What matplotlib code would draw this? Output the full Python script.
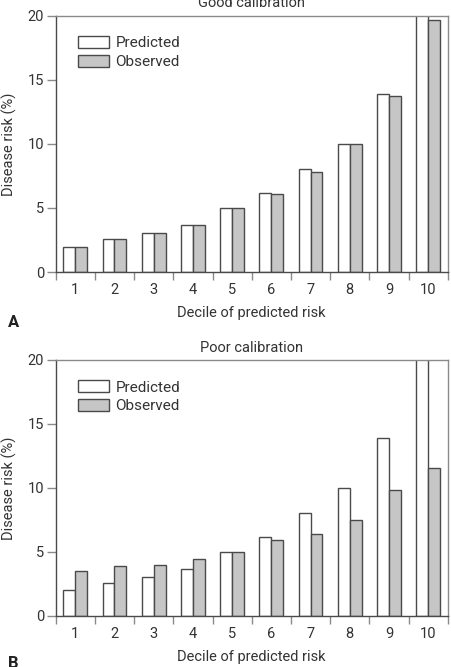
#!/usr/bin/env python3
"""Calibration figure: predicted vs observed disease risk by decile."""

import matplotlib as mpl
mpl.use("Agg")
import matplotlib.pyplot as plt
import numpy as np
from matplotlib.patches import Patch


DECILES = ["1", "2", "3", "4", "5", "6", "7", "8", "9", "10"]
PREDICTED = [1.98, 2.57, 3.02, 3.64, 5.0, 6.16, 8.04, 9.98, 13.9, 22.0]
OBSERVED_GOOD = [1.98, 2.57, 3.02, 3.64, 5.0, 6.08, 7.83, 9.98, 13.7, 19.66]
OBSERVED_POOR = [3.47, 3.91, 3.99, 4.46, 5.0, 5.89, 6.36, 7.48, 9.83, 11.58]
Y_TICKS = [0, 5, 10, 15, 20]

TEXT = "#333333"
EDGE = "#4a4a4a"
SPINE = "#8a8a8a"
FILL_OBS = "#c6c6c6"
FONT = ["Liberation Sans Narrow", "Roboto", "DejaVu Sans"]


def configure_matplotlib():
    mpl.rcParams.update({
        "font.family": FONT,
        "font.size": 10,
        "text.color": TEXT,
        "axes.labelcolor": TEXT,
        "xtick.color": SPINE,
        "ytick.color": SPINE,
        "xtick.labelcolor": TEXT,
        "ytick.labelcolor": TEXT,
    })


def draw_panel(ax, observed, title):
    x = np.arange(1, len(DECILES) + 1)
    width = 0.306
    ax.bar(x - width / 2, PREDICTED, width, color="white",
           edgecolor=EDGE, linewidth=1.0, zorder=2)
    ax.bar(x + width / 2, observed, width, color=FILL_OBS,
           edgecolor=EDGE, linewidth=1.0, zorder=2)

    ax.set_xlim(0.5, len(DECILES) + 0.5)
    ax.set_ylim(0, 20)
    ax.set_yticks(Y_TICKS)
    ax.set_xticks(np.arange(0.5, len(DECILES) + 1.0, 1.0))
    ax.set_xticklabels([])
    ax.set_xticks(x, minor=True)
    ax.set_xticklabels(DECILES, minor=True, fontsize=10.5)
    ax.tick_params(axis="x", which="major", length=6, width=1.0,
                   direction="out")
    ax.tick_params(axis="x", which="minor", length=0, pad=8)
    ax.tick_params(axis="y", length=6.5, width=1.0, labelsize=10.5, pad=2)
    for spine in ax.spines.values():
        spine.set_color(SPINE)
        spine.set_linewidth(1.0)
    ax.spines["left"].set_color(EDGE)
    ax.spines["bottom"].set_color(EDGE)

    ax.set_xlabel("Decile of predicted risk", fontsize=10.5)
    ax.xaxis.set_label_coords(0.5, -0.133)
    ax.set_ylabel("Disease risk (%)", fontsize=10.5, va="center")
    ax.yaxis.set_label_coords(-0.118, 0.5)
    ax.set_title(title, fontsize=10.5, pad=6)

    handles = [
        Patch(facecolor="white", edgecolor=EDGE, label="Predicted"),
        Patch(facecolor=FILL_OBS, edgecolor=EDGE, label="Observed"),
    ]
    ax.legend(handles=handles, loc="upper left",
              bbox_to_anchor=(0.057, 0.92), frameon=False,
              fontsize=11, handlelength=2.0, handleheight=0.8,
              labelspacing=0.3, handletextpad=0.45, borderaxespad=0,
              borderpad=0)


def main():
    configure_matplotlib()
    fig = plt.figure(figsize=(4.51, 6.67), dpi=100, facecolor="white")
    ax_a = fig.add_axes([0.1235, 0.5922, 0.8692, 0.3843])
    ax_b = fig.add_axes([0.1235, 0.0769, 0.8692, 0.3834])
    draw_panel(ax_a, OBSERVED_GOOD, "Good calibration")
    draw_panel(ax_b, OBSERVED_POOR, "Poor calibration")
    fig.text(0.018, 1 - 322 / 667, "A", fontsize=12, fontweight="bold",
             va="center", ha="left", color="#222222")
    fig.text(0.018, 1 - 664 / 667, "B", fontsize=12, fontweight="bold",
             va="center", ha="left", color="#222222")
    fig.savefig("out.png", dpi=100, facecolor="white")
    plt.close(fig)


if __name__ == "__main__":
    main()
